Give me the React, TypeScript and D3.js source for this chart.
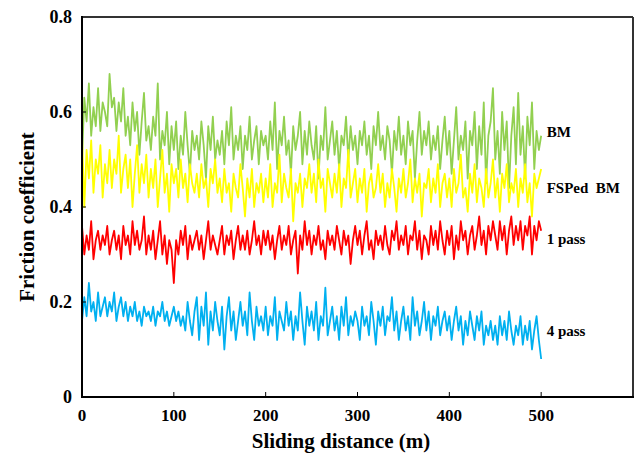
import React from "react";
import * as d3 from "d3";

// sampled every 2.5 m, 0..500
const step = 2.5;

const bm = [
  0.50, 0.63, 0.58, 0.66, 0.55, 0.61, 0.57, 0.65, 0.56, 0.62,
  0.60, 0.57, 0.68, 0.61, 0.63, 0.56, 0.62, 0.58, 0.65, 0.55,
  0.59, 0.53, 0.62, 0.56, 0.60, 0.51, 0.58, 0.64, 0.54, 0.57,
  0.52, 0.59, 0.55, 0.66, 0.50, 0.56, 0.53, 0.60, 0.49, 0.57,
  0.52, 0.58, 0.48, 0.55, 0.51, 0.60, 0.53, 0.47, 0.56, 0.52,
  0.55, 0.50, 0.58, 0.53, 0.46, 0.57, 0.52, 0.59, 0.50, 0.54,
  0.51, 0.56, 0.49, 0.58, 0.53, 0.61, 0.50, 0.55, 0.52, 0.57,
  0.48, 0.55, 0.52, 0.59, 0.50, 0.54, 0.57, 0.49, 0.56, 0.53,
  0.55, 0.50, 0.58, 0.52, 0.62, 0.48, 0.56, 0.53, 0.59, 0.51,
  0.54, 0.47, 0.57, 0.52, 0.55, 0.60, 0.49, 0.56, 0.51, 0.58,
  0.53, 0.50, 0.57, 0.46, 0.55, 0.52, 0.61, 0.50, 0.54, 0.58,
  0.51, 0.56, 0.48, 0.55, 0.53, 0.59, 0.50, 0.57, 0.52, 0.55,
  0.49, 0.56, 0.53, 0.58, 0.51, 0.55, 0.48, 0.57, 0.53, 0.60,
  0.52, 0.55, 0.50, 0.57, 0.54, 0.47, 0.56, 0.52, 0.59, 0.51,
  0.55, 0.49, 0.58, 0.53, 0.56, 0.46, 0.54, 0.60, 0.51, 0.56,
  0.53, 0.58, 0.50, 0.55, 0.52, 0.57, 0.48, 0.54, 0.59, 0.51,
  0.56, 0.47, 0.54, 0.61, 0.50, 0.55, 0.52, 0.58, 0.46, 0.56,
  0.53, 0.60, 0.48, 0.57, 0.51, 0.62, 0.45, 0.55, 0.58, 0.65,
  0.50, 0.56, 0.47, 0.60, 0.52, 0.58, 0.44, 0.55, 0.61, 0.49,
  0.64, 0.51, 0.57, 0.46, 0.59, 0.53, 0.62, 0.48, 0.56, 0.52,
  0.55,
];

const fsped = [
  0.55, 0.40, 0.52, 0.46, 0.54, 0.43, 0.50, 0.47, 0.53, 0.42,
  0.49, 0.45, 0.52, 0.44, 0.50, 0.47, 0.55, 0.43, 0.48, 0.51,
  0.44, 0.50, 0.40, 0.47, 0.53, 0.43, 0.49, 0.45, 0.51, 0.42,
  0.48, 0.44, 0.50, 0.40, 0.46, 0.52, 0.43, 0.47, 0.39, 0.49,
  0.45, 0.48, 0.42, 0.50, 0.44, 0.47, 0.41, 0.49, 0.45, 0.43,
  0.47, 0.42, 0.49, 0.44, 0.46, 0.40, 0.48, 0.45, 0.50, 0.43,
  0.46, 0.41, 0.48, 0.43, 0.45, 0.39, 0.47, 0.44, 0.42, 0.49,
  0.44, 0.38, 0.46, 0.42, 0.48, 0.40, 0.45, 0.43, 0.47, 0.41,
  0.46, 0.42, 0.49, 0.40, 0.45, 0.43, 0.51, 0.41, 0.47, 0.44,
  0.42, 0.48, 0.37, 0.45, 0.43, 0.47, 0.40, 0.46, 0.44, 0.49,
  0.43, 0.47, 0.41, 0.50, 0.44, 0.46, 0.39, 0.48, 0.45, 0.42,
  0.47, 0.43, 0.49, 0.40, 0.46, 0.44, 0.52, 0.42, 0.45, 0.48,
  0.41, 0.46, 0.43, 0.48, 0.39, 0.45, 0.47, 0.42, 0.44, 0.49,
  0.43, 0.47, 0.40, 0.45, 0.42, 0.48, 0.44, 0.39, 0.46, 0.43,
  0.48, 0.42, 0.45, 0.50, 0.41, 0.46, 0.43, 0.47, 0.38, 0.45,
  0.44, 0.48, 0.41, 0.46, 0.43, 0.49, 0.40, 0.45, 0.47, 0.42,
  0.46, 0.40, 0.48, 0.43, 0.45, 0.51, 0.42, 0.44, 0.39, 0.47,
  0.43, 0.49, 0.41, 0.46, 0.44, 0.40, 0.48, 0.42, 0.45, 0.50,
  0.42, 0.46, 0.39, 0.47, 0.44, 0.49, 0.41, 0.45, 0.43, 0.48,
  0.40, 0.46, 0.43, 0.49, 0.41, 0.45, 0.38, 0.47, 0.44, 0.46,
  0.48,
];

const pass1 = [
  0.36, 0.30, 0.34, 0.31, 0.37, 0.29, 0.33, 0.35, 0.31, 0.34,
  0.32, 0.36, 0.30, 0.33, 0.35, 0.31, 0.34, 0.29, 0.36, 0.32,
  0.34, 0.30, 0.37, 0.32, 0.35, 0.31, 0.33, 0.38, 0.30, 0.34,
  0.31, 0.35, 0.29, 0.33, 0.37, 0.30, 0.34, 0.28, 0.33, 0.31,
  0.24, 0.33, 0.30, 0.35, 0.32, 0.36, 0.29, 0.34, 0.31, 0.33,
  0.35, 0.31, 0.34, 0.29, 0.33, 0.37, 0.31, 0.34, 0.32, 0.30,
  0.33, 0.36, 0.30, 0.34, 0.32, 0.35, 0.29, 0.33, 0.36, 0.31,
  0.34, 0.31, 0.35, 0.30, 0.33, 0.37, 0.32, 0.34, 0.30, 0.35,
  0.32, 0.35, 0.31, 0.34, 0.29, 0.33, 0.36, 0.31, 0.34, 0.32,
  0.36, 0.30, 0.33, 0.35, 0.26, 0.34, 0.31, 0.37, 0.32, 0.35,
  0.30, 0.34, 0.32, 0.36, 0.31, 0.33, 0.29, 0.35, 0.32, 0.34,
  0.31, 0.36, 0.33, 0.30, 0.35, 0.32, 0.34, 0.28, 0.33, 0.36,
  0.32, 0.35, 0.30, 0.34, 0.37, 0.31, 0.33, 0.29, 0.35, 0.32,
  0.34, 0.31, 0.36, 0.32, 0.30, 0.35, 0.33, 0.37, 0.31, 0.34,
  0.32, 0.36, 0.30, 0.34, 0.33, 0.37, 0.31, 0.35, 0.29, 0.34,
  0.33, 0.30, 0.36, 0.32, 0.35, 0.31, 0.37, 0.33, 0.30, 0.35,
  0.32, 0.36, 0.29, 0.34, 0.31, 0.37, 0.33, 0.35, 0.30, 0.34,
  0.36, 0.31, 0.34, 0.38, 0.32, 0.35, 0.30, 0.36, 0.33, 0.37,
  0.34, 0.31, 0.37, 0.33, 0.36, 0.30, 0.35, 0.38, 0.32, 0.36,
  0.33, 0.37, 0.31, 0.36, 0.34, 0.38, 0.30, 0.36, 0.33, 0.37,
  0.35,
];

const pass4 = [
  0.16, 0.21, 0.17, 0.24, 0.18, 0.20, 0.16, 0.22, 0.17, 0.19,
  0.21, 0.17, 0.20, 0.18, 0.22, 0.16, 0.19, 0.21, 0.17, 0.20,
  0.16, 0.19, 0.17, 0.20, 0.16, 0.18, 0.15, 0.19, 0.17, 0.18,
  0.16, 0.19, 0.15, 0.18, 0.17, 0.20, 0.16, 0.18, 0.15, 0.17,
  0.19, 0.16, 0.18, 0.15, 0.17, 0.14, 0.20, 0.16, 0.13, 0.18,
  0.21, 0.12, 0.19, 0.15, 0.22, 0.11, 0.18, 0.14, 0.20, 0.16,
  0.13, 0.19, 0.10, 0.17, 0.21, 0.14, 0.18, 0.12, 0.16, 0.20,
  0.15, 0.18, 0.13, 0.22, 0.16, 0.12, 0.19, 0.15, 0.17, 0.14,
  0.19, 0.13, 0.17, 0.15, 0.21, 0.12, 0.18, 0.16, 0.14, 0.20,
  0.15, 0.18, 0.12, 0.17, 0.14, 0.22, 0.16, 0.11, 0.19, 0.15,
  0.18, 0.14, 0.20, 0.12, 0.17, 0.15, 0.23, 0.13, 0.16, 0.19,
  0.14, 0.17, 0.12, 0.19, 0.15, 0.21, 0.13, 0.17, 0.15, 0.18,
  0.16, 0.12, 0.19, 0.15, 0.17, 0.13, 0.20, 0.16, 0.11, 0.18,
  0.15, 0.19, 0.13, 0.17, 0.16, 0.21, 0.14, 0.18, 0.12, 0.16,
  0.19, 0.14, 0.17, 0.12, 0.21, 0.15, 0.18, 0.13, 0.16, 0.20,
  0.14, 0.18, 0.12, 0.17, 0.15, 0.19, 0.13, 0.16, 0.18, 0.14,
  0.17, 0.12, 0.16, 0.19, 0.14, 0.17, 0.11, 0.16, 0.13, 0.18,
  0.15, 0.12, 0.17, 0.14, 0.18, 0.11, 0.15, 0.13, 0.16, 0.12,
  0.15, 0.11, 0.17, 0.13, 0.16, 0.12, 0.18, 0.14, 0.11, 0.15,
  0.13, 0.17, 0.11, 0.15, 0.12, 0.16, 0.10, 0.14, 0.17, 0.12,
  0.08,
];

const seriesNames = ["BM", "FSPed  BM", "1 pass", "4 pass"];
const seriesColors = ["#92D050", "#FFFF00", "#FF0000", "#00B0F0"];
const seriesValues = [bm, fsped, pass1, pass4];
// where the series labels sit (in data units)
const labelY = [0.558, 0.44, 0.333, 0.139];

const xTicks = [0, 100, 200, 300, 400, 500];
const yTicks = [0, 0.2, 0.4, 0.6, 0.8];

const width = 636;
const height = 455;
const margin = { top: 17, right: 3, bottom: 58, left: 82 };

export default function App() {
  const x = d3
    .scaleLinear()
    .domain([0, 600])
    .range([margin.left, width - margin.right]);
  const y = d3
    .scaleLinear()
    .domain([0, 0.8])
    .range([height - margin.bottom, margin.top]);

  const line = d3
    .line<number>()
    .x((d, i) => x(i * step))
    .y((d) => y(d));

  const font = "'Liberation Serif', 'Times New Roman', serif";
  const x0 = x.range()[0];
  const x1 = x.range()[1];
  const y0 = y.range()[0];
  const y1 = y.range()[1];

  return (
    <div style={{ position: "absolute", left: 0, top: 0 }}>
      <svg width={width} height={height} style={{ display: "block", background: "#fff" }}>
        {seriesValues.map((vals, i) => (
          <path
            key={seriesNames[i]}
            d={line(vals) || ""}
            fill="none"
            stroke={seriesColors[i]}
            strokeWidth={1.8}
            strokeLinejoin="round"
          />
        ))}

        {/* frame */}
        <line x1={x0} x2={x1} y1={y1} y2={y1} stroke="#333" strokeWidth={2} />
        <line x1={x1} x2={x1} y1={y1} y2={y0} stroke="#333" strokeWidth={2} />
        <line x1={x0} x2={x0} y1={y1 - 1} y2={y0 + 1} stroke="#000" strokeWidth={2} />
        <line x1={x0 - 1} x2={x1 + 1} y1={y0} y2={y0} stroke="#000" strokeWidth={2} />

        {xTicks.map((t) => (
          <g key={"x" + t}>
            {t > 0 && (
              <line x1={x(t)} x2={x(t)} y1={y0} y2={y0 - 5} stroke="#000" strokeWidth={1} />
            )}
            <text
              x={x(t)}
              y={421}
              textAnchor="middle"
              fontFamily={font}
              fontWeight="bold"
              fontSize={17}
              fill="#000"
            >
              {t}
            </text>
          </g>
        ))}

        {yTicks.map((t) => (
          <g key={"y" + t}>
            {t > 0 && t < 0.8 && (
              <line x1={x0} x2={x0 + 4} y1={y(t)} y2={y(t)} stroke="#000" strokeWidth={1} />
            )}
            <text
              x={72}
              y={y(t)}
              dy="0.35em"
              textAnchor="end"
              fontFamily={font}
              fontWeight="bold"
              fontSize={18}
              fill="#000"
            >
              {t === 0 ? "0" : t.toFixed(1)}
            </text>
          </g>
        ))}

        {seriesNames.map((name, i) => (
          <text
            key={"lab" + i}
            x={x(506)}
            y={y(labelY[i])}
            dy="0.35em"
            fontFamily={font}
            fontWeight="bold"
            fontSize={15}
            fill="#000"
            style={{ whiteSpace: "pre" }}
          >
            {name}
          </text>
        ))}

        <text
          x={341}
          y={448}
          textAnchor="middle"
          fontFamily={font}
          fontWeight="bold"
          fontSize={21}
          fill="#000"
        >
          Sliding distance (m)
        </text>
        <text
          transform={`translate(34,217) rotate(-90)`}
          textAnchor="middle"
          fontFamily={font}
          fontWeight="bold"
          fontSize={21}
          fill="#000"
        >
          Friction coefficient
        </text>
      </svg>
    </div>
  );
}
